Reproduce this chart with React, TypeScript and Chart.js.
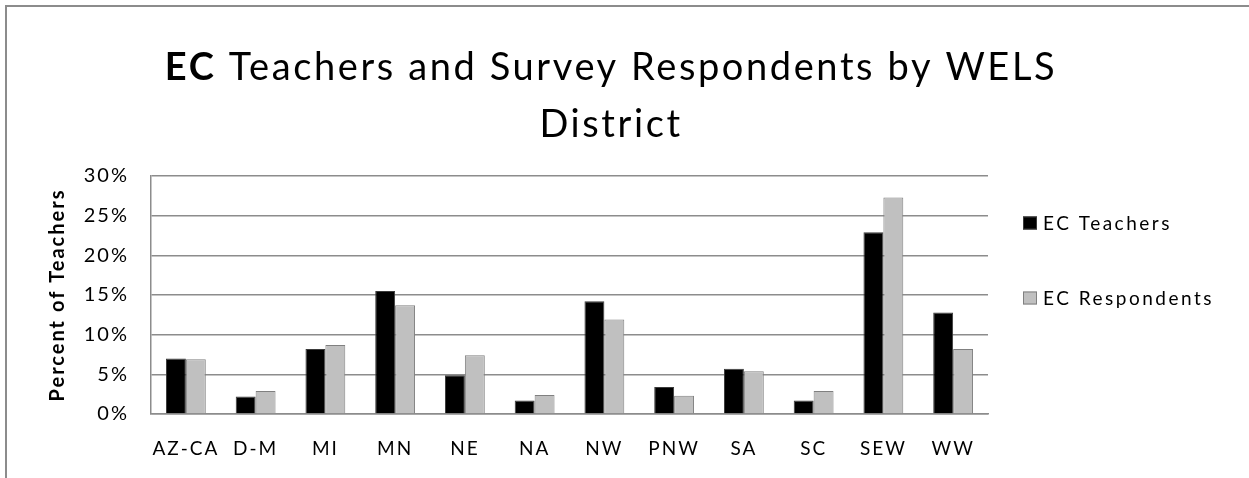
import React, { useEffect, useRef } from 'react';
import { Chart, registerables } from 'chart.js';

Chart.register(...registerables);

// ---- data ----
const categories = ['AZ-CA', 'D-M', 'MI', 'MN', 'NE', 'NA', 'NW', 'PNW', 'SA', 'SC', 'SEW', 'WW'];
const ecTeachers = [7.0, 2.2, 8.2, 15.5, 4.9, 1.7, 14.2, 3.4, 5.7, 1.7, 22.9, 12.8];
const ecRespondents = [6.9, 2.9, 8.7, 13.7, 7.4, 2.4, 11.9, 2.3, 5.4, 2.9, 27.3, 8.2];
const seriesNames = ['EC Teachers', 'EC Respondents'];
const yTicks = [0, 5, 10, 15, 20, 25, 30];
const titleBold = 'EC';
const titleRest = ' Teachers and Survey Respondents by WELS';
const titleLine2 = 'District';
const yAxisTitle = 'Percent of Teachers';

// ---- styles ----
const W = 1249;
const H = 478;
const FONT = 'Lato, Carlito, Calibri, sans-serif';
const FRAME = '#8c8c8c';
const GRID = '#8c8c8c';
const COLORS = ['#000000', '#c0c0c0'];
const BORDERS = ['#3a3a3a', '#808080'];

const decorPlugin = {
  id: 'decor',
  beforeDraw(chart: any) {
    const ctx = chart.ctx;
    ctx.save();
    ctx.fillStyle = '#ffffff';
    ctx.fillRect(0, 0, W, H);
    ctx.fillStyle = FRAME;
    ctx.fillRect(5, 5, W - 5, 2);
    ctx.fillRect(5, 5, 2, H - 5);
    ctx.restore();
    ctx.letterSpacing = '2px';
  },
  afterDraw(chart: any) {
    const ctx = chart.ctx;
    ctx.save();
    // title
    ctx.letterSpacing = '2.6px';
    ctx.fillStyle = '#000';
    ctx.textBaseline = 'alphabetic';
    ctx.textAlign = 'left';
    const bold = `bold 38px ${FONT}`;
    const normal = `38px ${FONT}`;
    ctx.font = bold;
    const wb = ctx.measureText(titleBold).width;
    ctx.font = normal;
    const wr = ctx.measureText(titleRest).width;
    const cx = 611;
    const x0 = cx - (wb + wr) / 2;
    ctx.font = bold;
    ctx.fillText(titleBold, x0, 80);
    ctx.font = normal;
    ctx.fillText(titleRest, x0 + wb, 80);
    ctx.textAlign = 'center';
    ctx.fillText(titleLine2, cx, 137);

    // legend
    ctx.letterSpacing = '2.5px';
    ctx.font = `19px ${FONT}`;
    ctx.textAlign = 'left';
    ctx.textBaseline = 'middle';
    const ys = [223, 298];
    seriesNames.forEach((name, i) => {
      const y = ys[i];
      ctx.fillStyle = COLORS[i];
      ctx.fillRect(1023, y - 6.5, 14, 13);
      ctx.strokeStyle = BORDERS[i];
      ctx.lineWidth = 1;
      ctx.strokeRect(1023.5, y - 6, 13, 12);
      ctx.fillStyle = '#000';
      ctx.fillText(name, 1043, y + 1);
    });
    ctx.restore();
  },
};

export default function App() {
  const ref = useRef<HTMLCanvasElement>(null);

  useEffect(() => {
    document.body.style.margin = '0';
    const chart = new Chart(ref.current as HTMLCanvasElement, {
      type: 'bar',
      data: {
        labels: categories,
        datasets: [ecTeachers, ecRespondents].map((d, i) => ({
          label: seriesNames[i],
          data: d,
          backgroundColor: COLORS[i],
          borderColor: BORDERS[i],
          borderWidth: 1,
          categoryPercentage: 0.571,
          barPercentage: 1,
        })),
      },
      options: {
        responsive: false,
        animation: false,
        layout: { padding: { left: 0, top: 176, right: 261, bottom: 0 } },
        plugins: {
          legend: { display: false },
          title: { display: false },
          tooltip: { enabled: false },
        },
        scales: {
          x: {
            grid: { display: false, drawTicks: false },
            border: { display: true, color: GRID, width: 1.5 },
            ticks: {
              font: { family: FONT, size: 19 },
              color: '#000',
              padding: 23,
              maxRotation: 0,
              autoSkip: false,
            },
            afterFit: (s: any) => {
              s.height = 64;
            },
          },
          y: {
            min: yTicks[0],
            max: yTicks[yTicks.length - 1],
            ticks: {
              stepSize: 5,
              callback: (v: any) => `${v}%`,
              font: { family: FONT, size: 20 },
              color: '#000',
              padding: 22,
            },
            grid: { color: GRID, lineWidth: 1.5, drawTicks: false },
            border: { display: true, color: GRID, width: 1.5 },
            title: {
              display: true,
              text: yAxisTitle,
              font: { family: FONT, size: 20, weight: 'bold' },
              color: '#000',
              padding: { top: 46, bottom: 0 },
            },
            afterFit: (s: any) => {
              s.width = 151;
            },
          },
        },
      },
      plugins: [decorPlugin],
    });
    return () => chart.destroy();
  }, []);

  return (
    <div style={{ position: 'absolute', left: 0, top: 0, width: W, height: H, background: '#fff' }}>
      <canvas ref={ref} width={W} height={H} style={{ width: W, height: H, display: 'block' }} />
    </div>
  );
}
